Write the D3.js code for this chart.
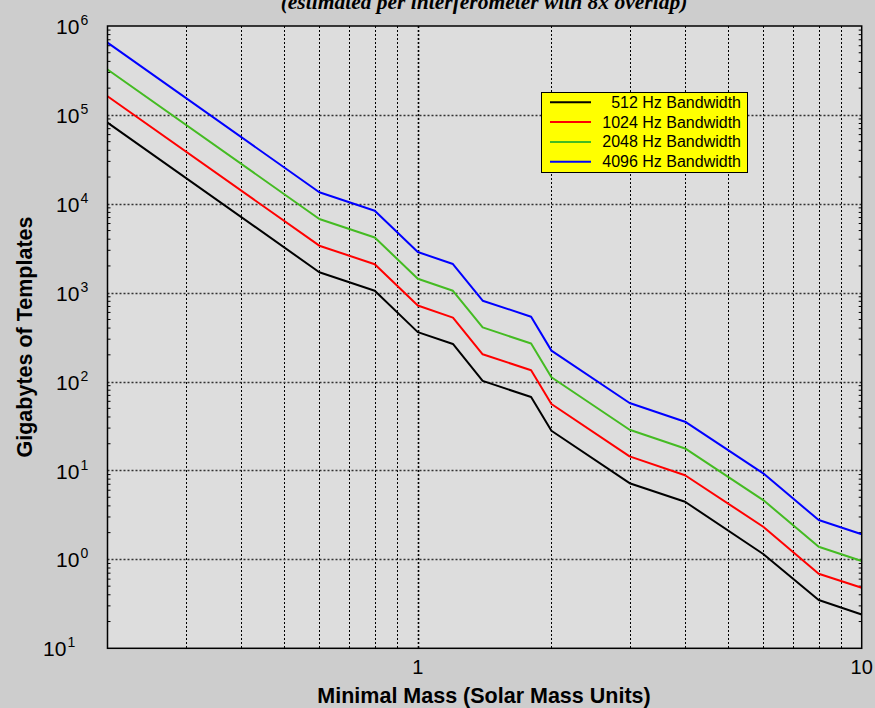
<!DOCTYPE html>
<html>
<head>
<meta charset="utf-8">
<script src="https://cdn.jsdelivr.net/npm/d3@7"></script>
<style>
  html, body { margin: 0; padding: 0; background: #cfcfcf; }
  svg { display: block; }
</style>
</head>
<body>
<div id="chart"></div>
<script>
// ---- data ----
const masses = [0.2, 0.6, 0.8, 1.0, 1.2, 1.4, 1.8, 2.0, 3.0, 4.0, 6.0, 8.0, 10];
const bw512  = [82000, 1700, 1050, 360, 265, 102, 67, 28, 7.2, 4.45, 1.15, 0.35, 0.24];
const bw1024 = [162000, 3380, 2090, 718, 525, 203, 134, 56, 14.4, 8.85, 2.33, 0.69, 0.48];
const bw2048 = [324000, 6750, 4180, 1435, 1050, 407, 268, 112, 28.7, 17.7, 4.65, 1.39, 0.96];
const bw4096 = [649000, 13500, 8360, 2870, 2100, 813, 537, 223, 57.4, 35.4, 9.3, 2.77, 1.92];
const seriesNames = ["512 Hz Bandwidth", "1024 Hz Bandwidth", "2048 Hz Bandwidth", "4096 Hz Bandwidth"];
const seriesColors = ["#000000", "#ff0000", "#44bb22", "#0000ff"];
const xTickValues = [1, 10];
const xTickLabels = ["1", "10"];
const yTickValues = [0.1, 1, 10, 100, 1000, 10000, 100000, 1000000];
const yTickExps = ["1", "0", "1", "2", "3", "4", "5", "6"];
const titleText = "(estimated per interferometer with 8x overlap)";
const xTitle = "Minimal Mass (Solar Mass Units)";
const yTitle = "Gigabytes of Templates";

const seriesData = [bw512, bw1024, bw2048, bw4096];

// ---- layout ----
const W = 875, H = 708;
const L = 107.5, R = 861.7, T = 26, B = 648.3;

const svg = d3.select("#chart").append("svg").attr("width", W).attr("height", H);

svg.append("rect").attr("width", W).attr("height", H).attr("fill", "#cdcdcd");

const x = d3.scaleLog().domain([0.2, 10]).range([L, R]);
const y = d3.scaleLog().domain([0.1, 1e6]).range([B, T]);

// plot area
svg.append("rect").attr("x", L).attr("y", T).attr("width", R - L).attr("height", B - T).attr("fill", "#dddddd");

// grid
const xGrid = [0.3,0.4,0.5,0.6,0.7,0.8,0.9,1,2,3,4,5,6,7,8,9];
const g = svg.append("g");
g.selectAll("line.xg").data(xGrid).join("line")
  .attr("x1", d => Math.round(x(d)) + 0.5).attr("x2", d => Math.round(x(d)) + 0.5)
  .attr("y1", T).attr("y2", B)
  .attr("stroke", "#000").attr("stroke-width", d => d === 1 ? 1.6 : 1)
  .attr("stroke-dasharray", "2,2");
g.selectAll("line.yg").data(yTickValues.slice(1, -1)).join("line")
  .attr("x1", L).attr("x2", R)
  .attr("y1", d => Math.round(y(d)) + 0.5).attr("y2", d => Math.round(y(d)) + 0.5)
  .attr("stroke", "#333").attr("stroke-width", 1.3)
  .attr("stroke-dasharray", "2,2");

// minor ticks
const yMinor = [];
for (let e = -1; e < 6; e++) for (let k = 2; k <= 9; k++) yMinor.push(k * Math.pow(10, e));
g.selectAll("line.ytl").data(yMinor).join("line")
  .attr("x1", L).attr("x2", L + 3).attr("y1", d => y(d)).attr("y2", d => y(d))
  .attr("stroke", "#000").attr("stroke-width", 1);
g.selectAll("line.ytr").data(yMinor).join("line")
  .attr("x1", R - 3).attr("x2", R).attr("y1", d => y(d)).attr("y2", d => y(d))
  .attr("stroke", "#000").attr("stroke-width", 1);

// series lines
const line = d3.line().x(d => x(d[0])).y(d => y(d[1]));
seriesData.forEach((vals, i) => {
  svg.append("path")
    .datum(masses.map((m, j) => [m, vals[j]]))
    .attr("d", line)
    .attr("fill", "none")
    .attr("stroke", seriesColors[i])
    .attr("stroke-width", 2)
    .attr("stroke-linejoin", "round");
});

// frame
svg.append("rect").attr("x", L).attr("y", T).attr("width", R - L).attr("height", B - T)
  .attr("fill", "none").attr("stroke", "#000").attr("stroke-width", 1.5);

// x tick labels
svg.selectAll("text.xt").data(xTickValues).join("text")
  .attr("x", d => x(d)).attr("y", 674)
  .attr("text-anchor", "middle")
  .attr("font-family", "Arial, 'Liberation Sans', sans-serif").attr("font-size", 20)
  .attr("fill", "#000")
  .text((d, i) => xTickLabels[i]);

// y tick labels
yTickValues.forEach((v, i) => {
  const yy = y(v);
  const shift = i === 0 ? -13 : 0;
  const t = svg.append("text")
    .attr("y", yy + 8)
    .attr("font-family", "Arial, 'Liberation Sans', sans-serif")
    .attr("fill", "#000");
  t.append("tspan").attr("x", 56 + shift).attr("font-size", 21).text("10");
  t.append("tspan").attr("x", 80.5 + shift).attr("dy", -9).attr("font-size", 14).text(yTickExps[i]);
});

// titles
svg.append("text").attr("x", 484).attr("y", 9).attr("text-anchor", "middle")
  .attr("font-family", "'Liberation Serif', 'Times New Roman', serif")
  .attr("font-style", "italic").attr("font-weight", "bold").attr("font-size", 21.5)
  .text(titleText);
svg.append("text").attr("x", 484).attr("y", 703).attr("text-anchor", "middle")
  .attr("font-family", "Arial, 'Liberation Sans', sans-serif").attr("font-weight", "bold").attr("font-size", 21.5)
  .text(xTitle);
svg.append("text").attr("transform", "translate(32,337) rotate(-90)").attr("text-anchor", "middle")
  .attr("font-family", "Arial, 'Liberation Sans', sans-serif").attr("font-weight", "bold").attr("font-size", 21.5)
  .text(yTitle);

// legend
const lg = svg.append("g");
lg.append("rect").attr("x", 541.5).attr("y", 92.5).attr("width", 206).attr("height", 80)
  .attr("fill", "#ffff00").attr("stroke", "#000").attr("stroke-width", 1);
seriesNames.forEach((name, i) => {
  const ly = 102.3 + i * 19.8;
  lg.append("line").attr("x1", 550).attr("x2", 591).attr("y1", ly).attr("y2", ly)
    .attr("stroke", seriesColors[i]).attr("stroke-width", 2);
  lg.append("text").attr("x", 741).attr("y", ly + 5.5).attr("text-anchor", "end")
    .attr("font-family", "Arial, 'Liberation Sans', sans-serif").attr("font-size", 16)
    .text(name);
});
</script>
</body>
</html>
